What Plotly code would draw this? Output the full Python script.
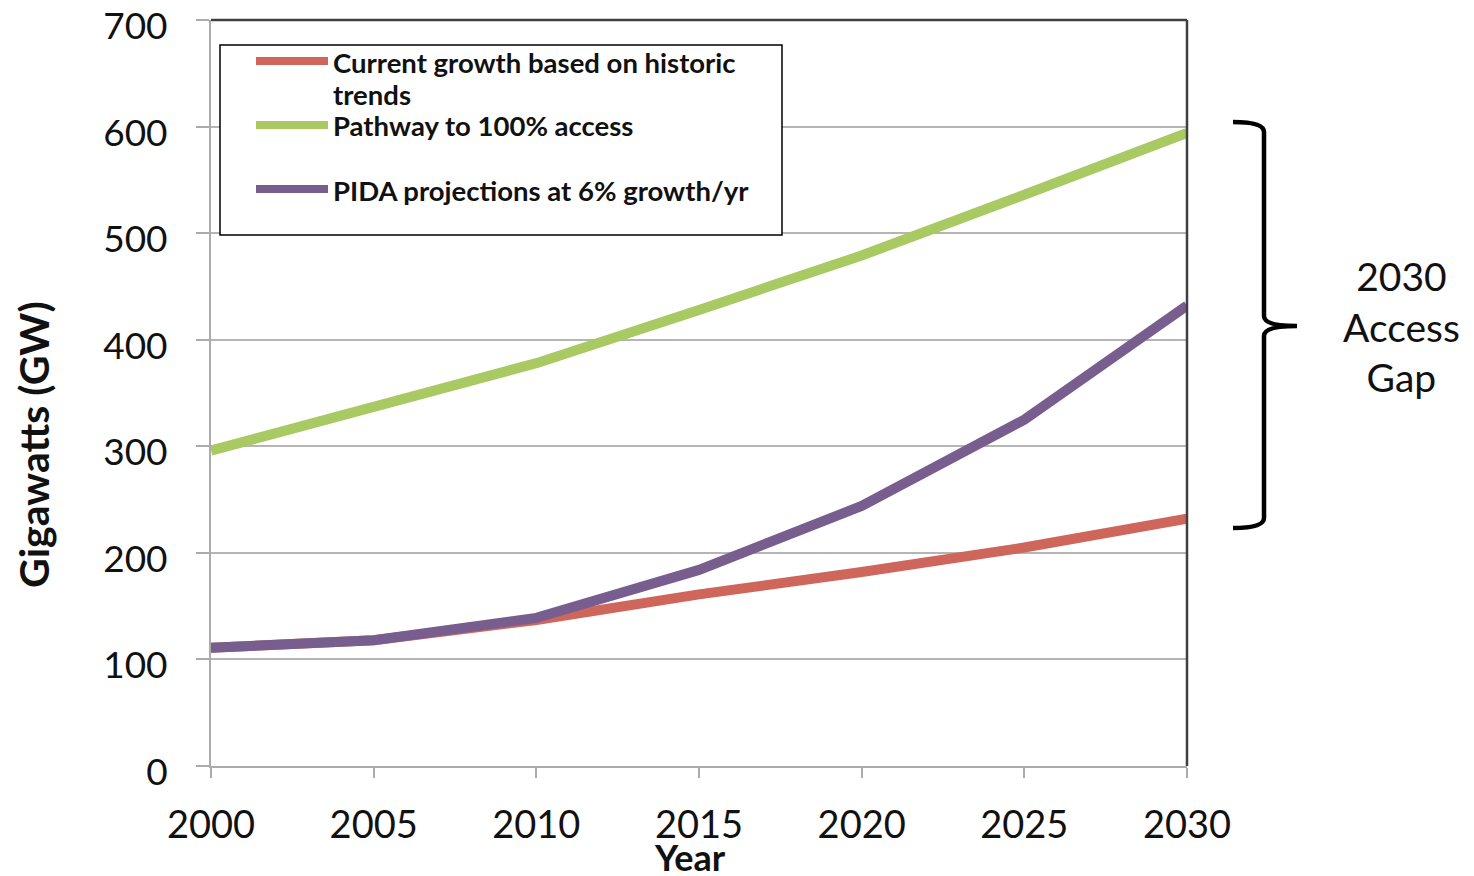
import plotly.graph_objects as go

years = [2000, 2005, 2010, 2015, 2020, 2025, 2030]
current_growth = [111, 118, 137, 161, 182, 205, 232]
pathway_100 = [296, 337, 378, 428, 479, 536, 594]
pida_6pct = [111, 118, 139, 184, 244, 325, 432]

series_names = ["Current growth based on historic<br>trends",
                "Pathway to 100% access",
                "PIDA projections at 6% growth/yr"]
series_colors = ["#CF665B", "#A9C963", "#785E8F"]
y_ticks = [0, 100, 200, 300, 400, 500, 600, 700]
x_ticks = [2000, 2005, 2010, 2015, 2020, 2025, 2030]

OFF = 8  # page body margin
W, H = 1474 - OFF, 876 - OFF
L, R, T, B = 211, 1187, 20, 766  # target plot box in page pixels
pw, ph = R - L, B - T


def px(x):
    return (x - L) / pw


def py(y):
    return (B - y) / ph


fig = go.Figure()
for name, vals, col in zip(series_names, [current_growth, pathway_100, pida_6pct], series_colors):
    fig.add_trace(go.Scatter(x=years, y=vals, mode="lines", name=name,
                             line=dict(color=col, width=10), showlegend=False))

FONT = "Lato"

fig.update_layout(
    width=W, height=H,
    margin=dict(l=L - OFF, r=1474 - R, t=T - OFF, b=876 - B, autoexpand=False),
    paper_bgcolor="white", plot_bgcolor="white",
    xaxis=dict(range=[2000, 2030], tickvals=x_ticks, ticktext=[str(v) for v in x_ticks],
               showgrid=False, zeroline=False, showline=True, linecolor="#ababab", linewidth=2,
               ticks="outside", ticklen=10, tickcolor="#ababab", tickwidth=2,
               tickfont=dict(family=FONT, size=38, color="#111"), ticklabelstandoff=14,
               automargin=False),
    yaxis=dict(range=[-0.01, 700.01], tickvals=y_ticks, showgrid=True, gridcolor="#b5b5b5", gridwidth=1.5,
               zeroline=False, showline=True, linecolor="#ababab", linewidth=2,
               ticks="outside", ticklen=13, tickcolor="#ababab", tickwidth=2,
               tickfont=dict(family=FONT, size=37, color="#111"), ticklabelstandoff=21,
               ticklabelshift=6, ticklabeloverflow="allow", automargin=False),
    showlegend=False,
)

shapes = []
# top and right plot frame
shapes.append(dict(type="line", xref="paper", yref="paper", x0=0, x1=1, y0=1, y1=1,
                   line=dict(color="#404040", width=2.5)))
shapes.append(dict(type="line", xref="paper", yref="paper", x0=1, x1=1, y0=0, y1=1,
                   line=dict(color="#404040", width=2.5)))
# legend box
shapes.append(dict(type="rect", xref="paper", yref="paper", x0=px(220), x1=px(782), y0=py(235), y1=py(45),
                   line=dict(color="black", width=1.5), fillcolor="white", layer="above"))
legend_rows = [62, 126, 190]
for row, col in zip(legend_rows, series_colors):
    shapes.append(dict(type="line", xref="paper", yref="paper", x0=px(256), x1=px(328),
                       y0=py(row - 1), y1=py(row - 1), line=dict(color=col, width=8), layer="above"))

# brace
bx0, bx1, btip = px(1233), px(1264), px(1297)
ytop, ymid, ybot = py(122), py(326), py(528)
dy = 10 / ph
path = (f"M {bx0},{ytop} Q {bx1},{ytop} {bx1},{ytop - dy} "
        f"L {bx1},{ymid + dy} Q {bx1},{ymid} {btip},{ymid} "
        f"Q {bx1},{ymid} {bx1},{ymid - dy} "
        f"L {bx1},{ybot + dy} Q {bx1},{ybot} {bx0},{ybot}")
shapes.append(dict(type="path", xref="paper", yref="paper", path=path,
                   line=dict(color="black", width=4.5)))
fig.update_layout(shapes=shapes)

annotations = []
legend_texts = ["Current growth based on historic", "trends", "Pathway to 100% access",
                "PIDA projections at 6% growth/yr"]
legend_text_y = [62, 95, 126, 190]
for txt, yy in zip(legend_texts, legend_text_y):
    annotations.append(dict(text=f"<b>{txt}</b>", xref="paper", yref="paper", x=px(331), y=py(yy),
                            xanchor="left", yanchor="middle", showarrow=False,
                            font=dict(family=FONT, size=27.5, color="#111")))
annotations.append(dict(text="2030<br>Access<br>Gap", xref="paper", yref="paper", x=px(1401), y=py(326),
                        xanchor="center", yanchor="middle", showarrow=False, align="center",
                        font=dict(family=FONT, size=39, color="#111")))
# axis titles
annotations.append(dict(text="<b>Year</b>", xref="paper", yref="paper", x=px(690), y=py(857),
                        xanchor="center", yanchor="middle", showarrow=False,
                        font=dict(family=FONT, size=36, color="#111")))
annotations.append(dict(text="<b>Gigawatts (GW)</b>", xref="paper", yref="paper", x=px(33), y=py(445),
                        xanchor="center", yanchor="middle", showarrow=False, textangle=-90,
                        font=dict(family=FONT, size=41, color="#111")))
fig.update_layout(annotations=annotations)

fig.write_html("out.html")
